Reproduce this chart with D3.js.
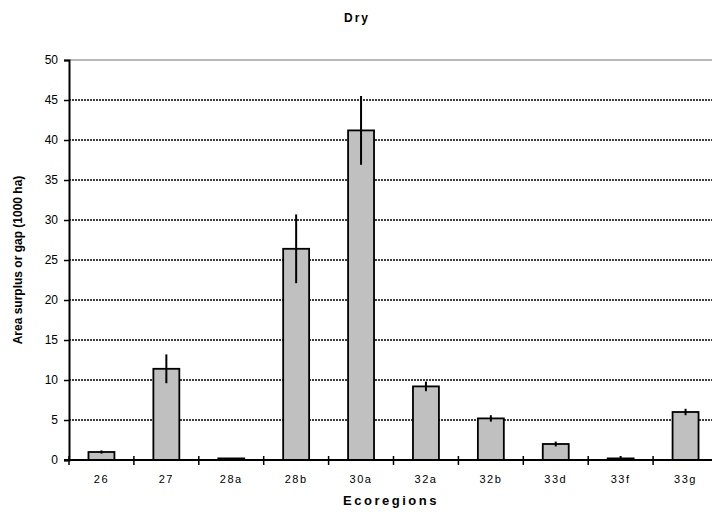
<!DOCTYPE html>
<html>
<head>
<meta charset="utf-8">
<script src="https://cdn.jsdelivr.net/npm/d3@7"></script>
<style>
  html, body { margin: 0; padding: 0; background: #fff; }
  svg { display: block; font-family: "Liberation Sans", Arial, sans-serif; }
</style>
</head>
<body>
<svg id="chart" width="712" height="513"></svg>
<script>
// Ecoregion area surplus / gap, dry sites
const categories = ["26", "27", "28a", "28b", "30a", "32a", "32b", "33d", "33f", "33g"];
const values     = [1.0, 11.4, 0.2, 26.4, 41.2, 9.2, 5.2, 2.0, 0.2, 6.0];
const errors     = [0.2, 1.8, 0.0, 4.3, 4.3, 0.6, 0.4, 0.3, 0.3, 0.4];
const yTicks     = [0, 5, 10, 15, 20, 25, 30, 35, 40, 45, 50];

const svg = d3.select("#chart");
const margin = { left: 69, top: 60, bottom: 460, right: 718 };

const x = d3.scaleBand().domain(categories).range([margin.left, margin.right]).padding(0);
const y = d3.scaleLinear().domain([0, 50]).range([margin.bottom, margin.top]);
const barW = x.bandwidth() * 0.4;

// Plot-area top border
svg.append("line")
  .attr("x1", margin.left).attr("x2", 712)
  .attr("y1", y(50)).attr("y2", y(50))
  .attr("stroke", "#a0a0a0").attr("stroke-width", 1.5);

// Dashed gridlines
svg.append("g").selectAll("line")
  .data(yTicks.filter(d => d > 0 && d < 50))
  .join("line")
  .attr("x1", margin.left).attr("x2", 712)
  .attr("y1", d => y(d)).attr("y2", d => y(d))
  .attr("stroke", "#000").attr("stroke-width", 1.3)
  .attr("stroke-dasharray", "2,1");

// Bars
svg.append("g").selectAll("rect")
  .data(categories)
  .join("rect")
  .attr("x", d => x(d) + (x.bandwidth() - barW) / 2)
  .attr("width", barW)
  .attr("y", (d, i) => y(values[i]))
  .attr("height", (d, i) => y(0) - y(values[i]))
  .attr("fill", "#c0c0c0")
  .attr("stroke", "#000").attr("stroke-width", 1.8);

// Error bars
svg.append("g").selectAll("line")
  .data(categories)
  .join("line")
  .attr("x1", d => x(d) + x.bandwidth() / 2)
  .attr("x2", d => x(d) + x.bandwidth() / 2)
  .attr("y1", (d, i) => y(values[i] + errors[i]))
  .attr("y2", (d, i) => y(values[i] - errors[i]))
  .attr("stroke", "#000").attr("stroke-width", 2);

// Y axis
const yAxis = d3.axisLeft(y).tickValues(yTicks).tickSize(5).tickPadding(6);
const gy = svg.append("g").attr("transform", `translate(${margin.left},0)`).call(yAxis);
gy.select(".domain").attr("stroke-width", 2);
gy.selectAll(".tick line").attr("stroke-width", 1.5);
gy.selectAll(".tick text").attr("font-size", 12).attr("font-family", "Liberation Sans, Arial, sans-serif").attr("fill", "#000");

// X axis: boundary ticks crossing the axis line
const gx = svg.append("g");
gx.append("line")
  .attr("x1", margin.left - 5).attr("x2", 712)
  .attr("y1", y(0)).attr("y2", y(0))
  .attr("stroke", "#000").attr("stroke-width", 2);
gx.selectAll("line.bt")
  .data(categories)
  .join("line")
  .attr("class", "bt")
  .attr("x1", d => x(d)).attr("x2", d => x(d))
  .attr("y1", y(0) - 4).attr("y2", y(0) + 5)
  .attr("stroke", "#000").attr("stroke-width", 1.5);
gx.selectAll("text")
  .data(categories)
  .join("text")
  .attr("x", d => x(d) + x.bandwidth() / 2)
  .attr("y", 483)
  .attr("text-anchor", "middle")
  .attr("font-size", 11)
  .attr("letter-spacing", "1.5px")
  .text(d => d);

// Titles
svg.append("text")
  .attr("x", 357).attr("y", 22)
  .attr("text-anchor", "middle")
  .attr("font-size", 12).attr("font-weight", "bold")
  .attr("letter-spacing", "2px")
  .text("Dry");

svg.append("text")
  .attr("x", 391).attr("y", 505)
  .attr("text-anchor", "middle")
  .attr("font-size", 13).attr("font-weight", "bold")
  .attr("letter-spacing", "2.5px")
  .text("Ecoregions");

svg.append("text")
  .attr("transform", "translate(22,260) rotate(-90)")
  .attr("text-anchor", "middle")
  .attr("font-size", 12).attr("font-weight", "bold")
  .text("Area surplus or gap (1000 ha)");
</script>
</body>
</html>
